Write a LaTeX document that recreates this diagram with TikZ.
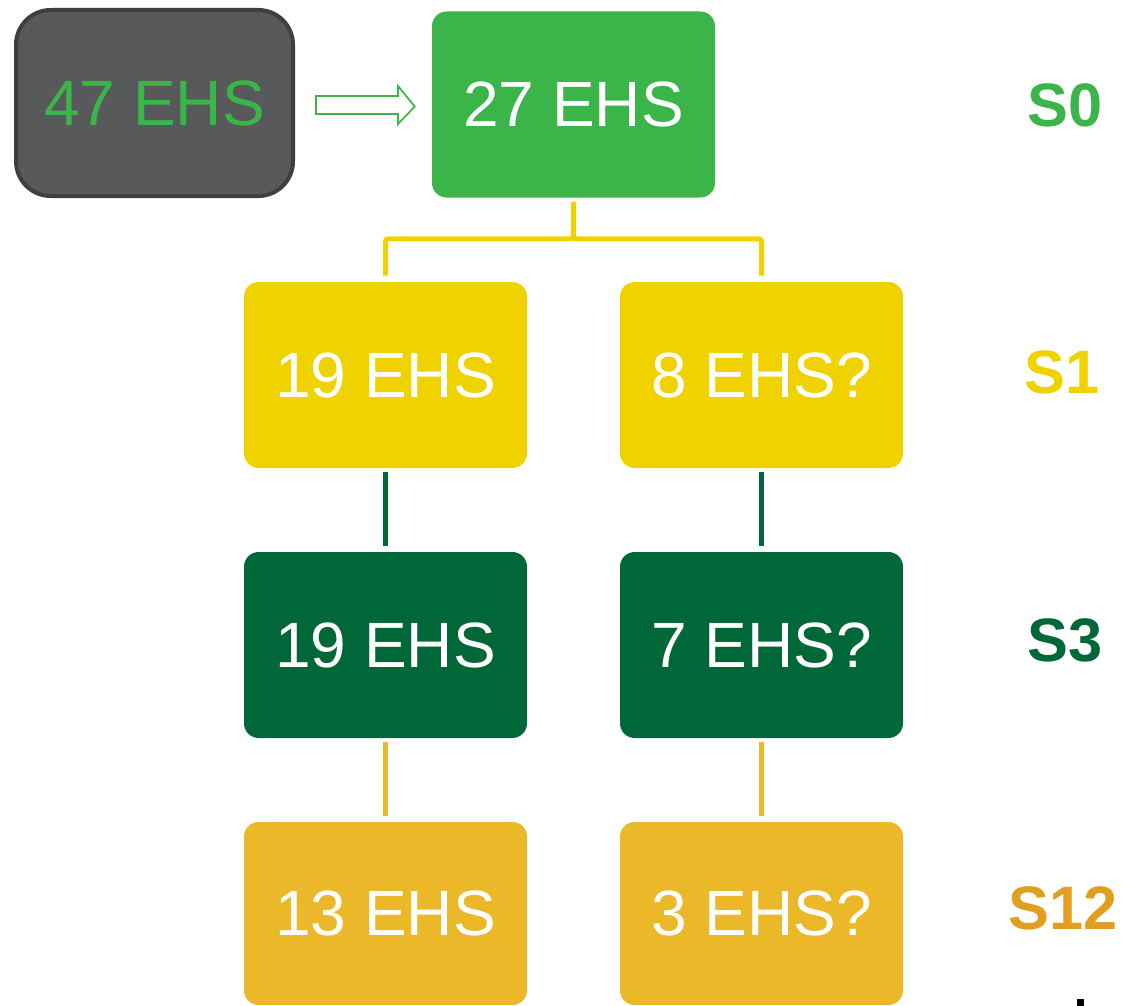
\documentclass[tikz,border=0pt]{standalone}
\usepackage{fontspec}
\setmainfont{Liberation Sans}
\usetikzlibrary{calc}
\definecolor{cgreen}{HTML}{3BB54A}
\definecolor{cgray}{HTML}{58595B}
\definecolor{cgrayb}{HTML}{3E3F41}
\definecolor{cyel}{HTML}{EFD200}
\definecolor{cdkg}{HTML}{006838}
\definecolor{cgold}{HTML}{EAB828}
\definecolor{corange}{HTML}{E29E1F}
\tikzset{
  box/.style={rounded corners=11pt, minimum width=212.25pt, minimum height=139.5pt,
    inner sep=0pt, text=white, font=\fontsize{48}{50}\selectfont},
  lvl/.style={font=\fontsize{46}{48}\selectfont\bfseries},
  conn/.style={line width=3.75pt},
}
\begin{document}
\begin{tikzpicture}[x=0.75pt,y=-0.75pt]
\useasboundingbox (0,0) rectangle (1132,1006);
% source box
\node[box, fill=cgray, draw=cgrayb, line width=3pt, rounded corners=26pt,
  minimum width=207.75pt, minimum height=139.5pt, text=cgreen] (src) at (154.5,103) {47 EHS};
\node[box, fill=cgreen] (g) at (573.5,104.5) {27 EHS};
\node[box, fill=cyel] (y1) at (385.5,375) {19 EHS};
\node[box, fill=cyel] (y2) at (761.5,375) {8 EHS?};
\node[box, fill=cdkg] (d1) at (385.5,645) {19 EHS};
\node[box, fill=cdkg] (d2) at (761.5,645) {7 EHS?};
\node[box, fill=cgold, minimum height=137.25pt] (o1) at (385.5,913.5) {13 EHS};
\node[box, fill=cgold, minimum height=137.25pt] (o2) at (761.5,913.5) {3 EHS?};
% level labels
\node[lvl, text=cgreen] (s0) at (1065,105) {S0};
\node[lvl, text=cyel] (s1) at (1062,372) {S1};
\node[lvl, text=cdkg] (s3) at (1065,640) {S3};
\node[lvl, text=corange] (s12) at (1063,908) {S12};
% hollow arrow
\coordinate (a0) at ($(src.east)+(20,0)$);
\draw[cgreen, line width=1.3pt, fill=white]
  ($(src.east)+(21,-7)$) -- ++(82,0) -- ++(0,-10) -- ($(g.west)+(-17,2)$)
  -- ($(src.east)+(103,21)$) -- ++(0,-10) -- ($(src.east)+(21,11)$) -- cycle;
% tree connectors
\draw[cyel, conn, rounded corners=2pt, shorten <=3pt, shorten >=4.5pt]
  (g.south) -- ++(0,41) -| (y1.north);
\draw[cyel, conn, rounded corners=2pt, shorten >=4.5pt]
  ($(g.south)+(0,41)$) -| (y2.north);
\draw[cdkg, conn, shorten <=3pt, shorten >=4.5pt] (y1.south) -- (d1.north);
\draw[cdkg, conn, shorten <=3pt, shorten >=4.5pt] (y2.south) -- (d2.north);
\draw[cgold, conn, shorten <=3pt, shorten >=4.5pt] (d1.south) -- (o1.north);
\draw[cgold, conn, shorten <=3pt, shorten >=4.5pt] (d2.south) -- (o2.north);
% small black fragment at the bottom edge
\fill[black] (1077,999) rectangle (1084,1006);
\end{tikzpicture}
\end{document}
